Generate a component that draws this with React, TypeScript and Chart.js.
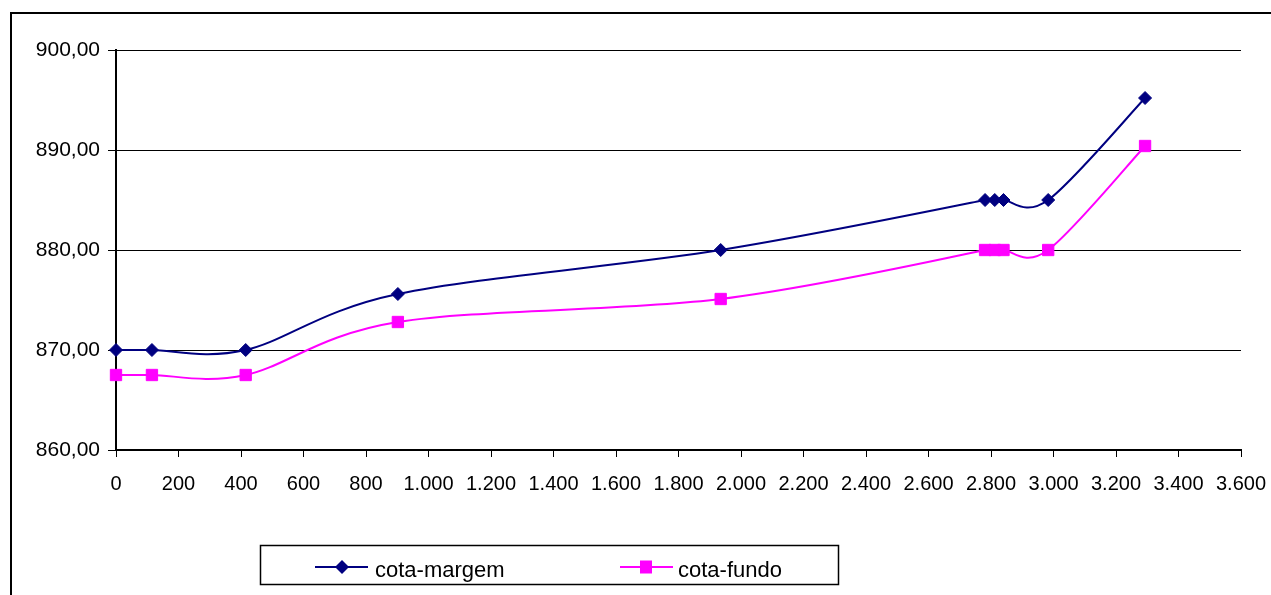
import { useEffect, useRef } from "react";
import { Chart, registerables } from "chart.js";

Chart.register(...registerables);

// Distâncias ao longo do trecho (m) e cotas (m)
const distancias = [0, 115, 415, 902, 1935, 2781, 2812, 2840, 2983, 3293];
const cotaMargem = [870, 870, 870, 875.6, 880, 885, 885, 885, 885, 895.2];
const cotaFundo = [867.5, 867.5, 867.5, 872.8, 875.1, 880, 880, 880, 880, 890.4];
const nomesSeries = ["cota-margem", "cota-fundo"];

const eixoX = { min: 0, max: 3600, passo: 200 };
const eixoY = { min: 860, max: 900, passo: 10 };

const AZUL = "#000080";
const MAGENTA = "#FF00FF";
const FONTE = '"Liberation Sans", Arial, sans-serif';

const milhar = (v: number) =>
  String(Math.round(v)).replace(/\B(?=(\d{3})+(?!\d))/g, ".");
const decimal = (v: number) => v.toFixed(2).replace(".", ",");

// Curva suavizada estilo Catmull-Rom uniforme (tangente = (P[i+1]-P[i-1])/6),
// limitada para que os pontos de controle não passem dos vizinhos em x.
const suavizacao = {
  id: "suavizacao",
  beforeDatasetDraw(chart: any, args: any) {
    const line: any = args.meta.dataset;
    if (!line) return;
    if (typeof line.updateControlPoints === "function") {
      line.updateControlPoints(chart.chartArea, "x");
    }
    const pts: any[] = args.meta.data;
    const n = pts.length;
    for (let i = 0; i < n; i++) {
      const p = pts[i];
      const prev = pts[Math.max(0, i - 1)];
      const next = pts[Math.min(n - 1, i + 1)];
      let tx = (next.x - prev.x) / 6;
      let ty = (next.y - prev.y) / 6;
      let k = 1;
      if (tx > 0) {
        if (i < n - 1) k = Math.min(k, (next.x - p.x) / tx);
        if (i > 0) k = Math.min(k, (p.x - prev.x) / tx);
      }
      tx *= k;
      ty *= k;
      p.cp1x = p.x - tx;
      p.cp1y = p.y - ty;
      p.cp2x = p.x + tx;
      p.cp2y = p.y + ty;
    }
    line._path = undefined;
  },
};

// Moldura externa e legenda desenhadas sobre o canvas
const molduraELegenda = {
  id: "molduraELegenda",
  afterDraw(chart: Chart) {
    const ctx = chart.ctx;
    ctx.save();
    ctx.strokeStyle = "#000";
    ctx.lineWidth = 2;
    ctx.strokeRect(11, 13, 1400, 800);

    ctx.lineWidth = 1.5;
    ctx.strokeRect(260.5, 545.5, 578, 39);

    const y = 567;
    const itens = [
      { nome: nomesSeries[0], cor: AZUL, x0: 315, x1: 368, cx: 342, marca: "losango", tx: 375 },
      { nome: nomesSeries[1], cor: MAGENTA, x0: 620, x1: 673, cx: 646, marca: "quadrado", tx: 678 },
    ];
    for (const it of itens) {
      ctx.strokeStyle = it.cor;
      ctx.lineWidth = 2;
      ctx.beginPath();
      ctx.moveTo(it.x0, y);
      ctx.lineTo(it.x1, y);
      ctx.stroke();
      ctx.fillStyle = it.cor;
      ctx.beginPath();
      if (it.marca === "losango") {
        ctx.moveTo(it.cx - 7, y);
        ctx.lineTo(it.cx, y - 7);
        ctx.lineTo(it.cx + 7, y);
        ctx.lineTo(it.cx, y + 7);
        ctx.closePath();
      } else {
        ctx.rect(it.cx - 6, y - 6.5, 12, 13);
      }
      ctx.fill();
      ctx.fillStyle = "#000";
      ctx.font = `22px ${FONTE}`;
      ctx.textBaseline = "alphabetic";
      ctx.textAlign = "left";
      ctx.fillText(it.nome, it.tx, 577);
    }
    ctx.restore();
  },
};

export default function App() {
  const canvasRef = useRef<HTMLCanvasElement | null>(null);

  useEffect(() => {
    if (!canvasRef.current) return;
    Chart.defaults.font.family = FONTE;
    const chart = new Chart(canvasRef.current, {
      type: "line",
      data: {
        datasets: [
          {
            label: nomesSeries[0],
            data: distancias.map((d, i) => ({ x: d, y: cotaMargem[i] })),
            borderColor: AZUL,
            backgroundColor: AZUL,
            borderWidth: 2,
            tension: 0.5,
            clip: false,
            pointStyle: "rectRot",
            pointRadius: 6.5,
            pointBorderWidth: 1,
            pointBackgroundColor: AZUL,
            pointBorderColor: AZUL,
          },
          {
            label: nomesSeries[1],
            data: distancias.map((d, i) => ({ x: d, y: cotaFundo[i] })),
            borderColor: MAGENTA,
            backgroundColor: MAGENTA,
            borderWidth: 2,
            tension: 0.5,
            clip: false,
            pointStyle: "rect",
            pointRadius: 8,
            pointBorderWidth: 1,
            pointBackgroundColor: MAGENTA,
            pointBorderColor: MAGENTA,
          },
        ],
      },
      options: {
        responsive: false,
        animation: false,
        layout: { padding: { left: 0, top: 50, right: 30, bottom: 0 } },
        plugins: { legend: { display: false }, tooltip: { enabled: false } },
        scales: {
          x: {
            type: "linear",
            min: eixoX.min,
            max: eixoX.max,
            afterFit: (s: any) => {
              s.height = 145;
              s.paddingLeft = 0;
              s.paddingRight = 0;
            },
            ticks: {
              stepSize: eixoX.passo,
              autoSkip: false,
              maxRotation: 0,
              padding: 15,
              color: "#000",
              font: { size: 20 },
              callback: (v: any) => milhar(Number(v)),
            },
            grid: {
              drawOnChartArea: false,
              drawTicks: true,
              tickLength: 7,
              color: "#000",
            },
            border: { color: "#000", width: 2 },
          },
          y: {
            min: eixoY.min,
            max: eixoY.max,
            afterFit: (s: any) => {
              s.width = 116;
            },
            ticks: {
              stepSize: eixoY.passo,
              padding: 8,
              color: "#000",
              font: { size: 21 },
              callback: (v: any) => decimal(Number(v)),
            },
            grid: { color: "#000", lineWidth: 1, tickLength: 8 },
            border: { color: "#000", width: 2 },
          },
        },
      },
      plugins: [suavizacao, molduraELegenda],
    });
    return () => chart.destroy();
  }, []);

  return (
    <canvas
      ref={canvasRef}
      width={1271}
      height={595}
      style={{ position: "absolute", left: 0, top: 0, width: 1271, height: 595 }}
    />
  );
}
